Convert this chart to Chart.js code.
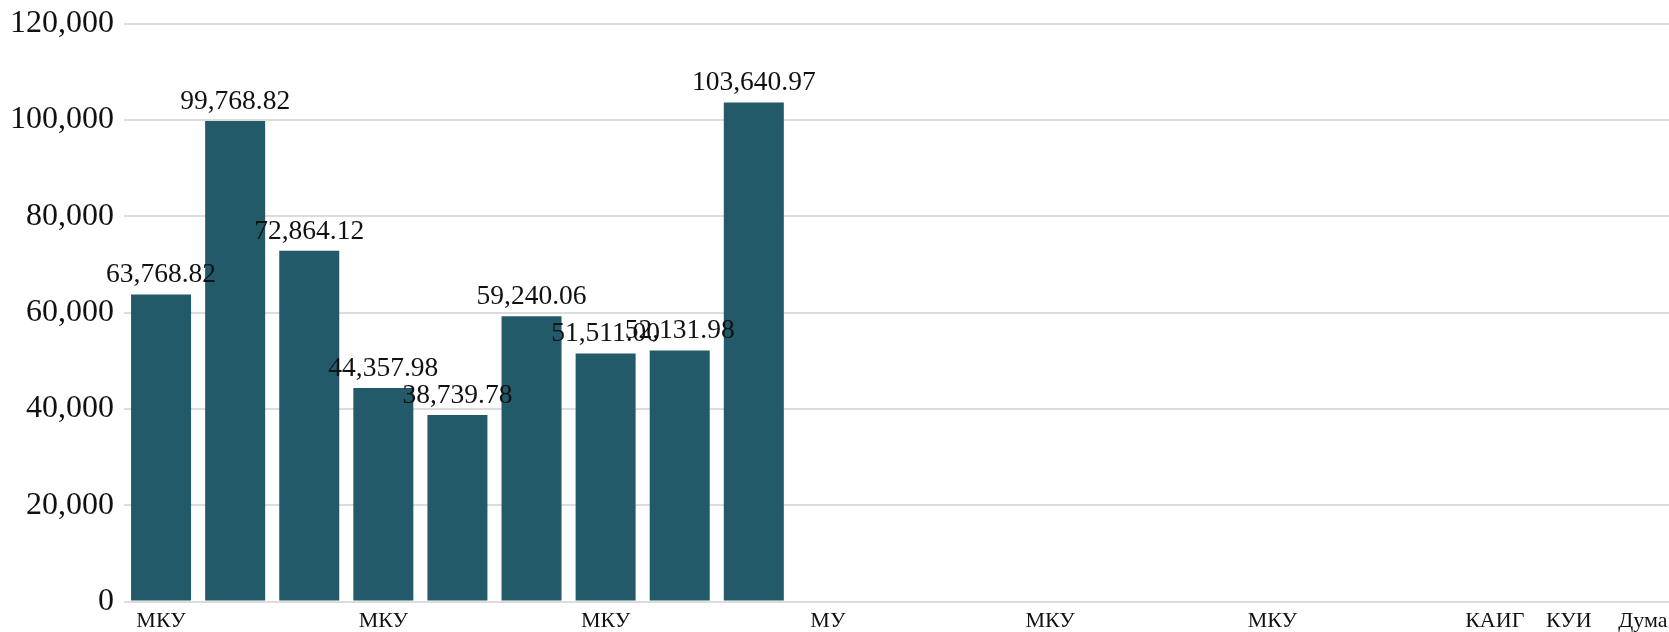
<!DOCTYPE html>
<html>
<head>
<meta charset="utf-8">
<script src="https://cdn.jsdelivr.net/npm/chart.js@4"></script>
<style>
  html, body { margin: 0; padding: 0; background: #fff; overflow: hidden; }
  #wrap { position: relative; width: 1680px; height: 632px; }
</style>
</head>
<body>
<div id="wrap"><canvas id="c"></canvas></div>
<script>
// Category tick labels (only those legible in the reference; others left blank)
const categories = ["МКУ", "", "", "МКУ", "", "", "МКУ", "", "", "МУ", "", "", "МКУ", "", "", "МКУ", "", "", "КАИГ", "КУИ", "Дума"];
// Series values (categories with no bar are null)
const values = [63768.82, 99768.82, 72864.12, 44357.98, 38739.78, 59240.06, 51511.00, 52131.98, 103640.97,
                null, null, null, null, null, null, null, null, null, null, null, null];
// Y tick values
const yTicks = [0, 20000, 40000, 60000, 80000, 100000, 120000];

const FONT = "'Liberation Serif', 'Times New Roman', serif";
const fmt = v => v.toLocaleString('en-US', { minimumFractionDigits: 2, maximumFractionDigits: 2 });

const valueLabels = {
  id: 'valueLabels',
  afterDatasetsDraw(chart) {
    const ctx = chart.ctx;
    const meta = chart.getDatasetMeta(0);
    ctx.save();
    ctx.font = "27.5px " + FONT;
    ctx.fillStyle = '#111';
    ctx.textAlign = 'center';
    ctx.textBaseline = 'alphabetic';
    meta.data.forEach((bar, i) => {
      const v = chart.data.datasets[0].data[i];
      if (v === null || v === undefined) return;
      ctx.fillText(fmt(v), bar.x, bar.y - 12);
    });
    ctx.restore();
  }
};

new Chart(document.getElementById('c'), {
  type: 'bar',
  data: {
    labels: categories,
    datasets: [{
      data: values,
      backgroundColor: '#235a69',
      borderWidth: 0,
      barPercentage: 0.9,
      categoryPercentage: 0.9
    }]
  },
  options: {
    responsive: true,
    maintainAspectRatio: false,
    animation: false,
    layout: { padding: { left: 0, top: 19, right: 0, bottom: -8 } },
    plugins: { legend: { display: false }, tooltip: { enabled: false } },
    scales: {
      x: {
        grid: { display: false, drawTicks: false },
        border: { display: false },
        ticks: {
          autoSkip: false, maxRotation: 0, minRotation: 0,
          padding: 6, color: '#111',
          font: { family: FONT, size: 22 }
        }
      },
      y: {
        min: yTicks[0], max: yTicks[yTicks.length - 1],
        afterBuildTicks(axis) { axis.ticks = yTicks.map(v => ({ value: v })); },
        grid: { color: '#dcdcdc', lineWidth: 2, drawTicks: false },
        border: { display: false },
        ticks: {
          padding: 10, color: '#111',
          font: { family: FONT, size: 32, lineHeight: 0.85 },
          callback: v => v.toLocaleString('en-US')
        }
      }
    }
  },
  plugins: [valueLabels]
});
</script>
</body>
</html>
